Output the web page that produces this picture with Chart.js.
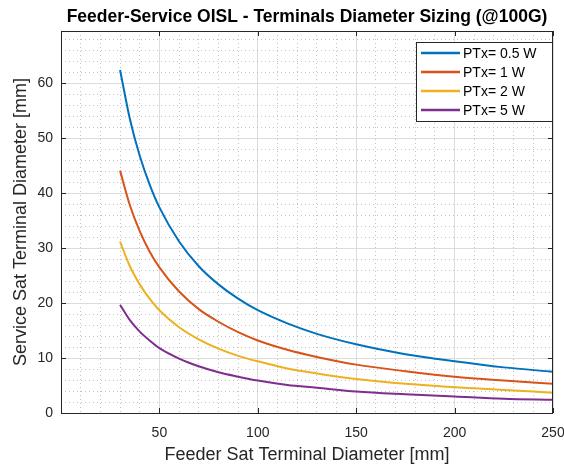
<!DOCTYPE html>
<html>
<head>
<meta charset="utf-8">
<title>Feeder-Service OISL</title>
<script src="https://cdn.jsdelivr.net/npm/chart.js@4.4.1/dist/chart.umd.min.js"></script>
<style>
  html, body { margin: 0; padding: 0; background: #fff; }
  #wrap { width: 564px; height: 466px; position: relative; }
</style>
</head>
<body>
<div id="wrap"><canvas id="sizing"></canvas></div>
<script>
// feeder terminal diameter [mm]
const feederDiam = [30, 35, 40, 45, 50, 60, 70, 80, 90, 100, 115, 130, 150, 175, 200, 225, 250];

// service terminal diameter [mm] per transmit power
const svc05W = [62.4, 53.5, 46.8, 41.6, 37.4, 31.2, 26.7, 23.4, 20.8, 18.7, 16.3, 14.4, 12.5, 10.7, 9.4, 8.3, 7.5];
const svc1W  = [44.1, 37.8, 33.1, 29.4, 26.5, 22.1, 18.9, 16.6, 14.7, 13.2, 11.5, 10.2, 8.8, 7.6, 6.6, 5.9, 5.3];
const svc2W  = [31.2, 26.7, 23.4, 20.8, 18.7, 15.6, 13.4, 11.7, 10.4, 9.4, 8.1, 7.2, 6.2, 5.3, 4.7, 4.2, 3.7];
const svc5W  = [19.7, 16.9, 14.8, 13.2, 11.8, 9.9, 8.5, 7.4, 6.6, 5.9, 5.1, 4.6, 3.9, 3.4, 3.0, 2.6, 2.4];

const seriesLabels = ["PTx= 0.5 W", "PTx= 1 W", "PTx= 2 W", "PTx= 5 W"];
const seriesColors = ["#0072BD", "#D95319", "#EDB120", "#7E2F8E"];

const xTickLabels = [50, 100, 150, 200, 250];
const yTickLabels = [0, 10, 20, 30, 40, 50, 60];

const chartTitle = "Feeder-Service OISL - Terminals Diameter Sizing (@100G)";

const FONT = "'Liberation Sans', Arial, Helvetica, sans-serif";
const TXT = "#262626";

function pts(ys) {
  return ys.map((y, i) => ({ x: feederDiam[i], y: y }));
}

const allSeries = [svc05W, svc1W, svc2W, svc5W];

// title over the axes, box around them, inward tick marks and the legend box
const axesDecor = {
  id: "axesDecor",
  afterDraw(chart) {
    const { ctx, chartArea: a, scales } = chart;
    ctx.save();

    ctx.fillStyle = "#000";
    ctx.font = "bold 17.5px " + FONT;
    ctx.textAlign = "center";
    ctx.textBaseline = "alphabetic";
    ctx.fillText(chartTitle, (a.left + a.right) / 2, 22);
    ctx.textAlign = "left";

    ctx.strokeStyle = "#262626";
    ctx.lineWidth = 1;
    ctx.strokeRect(a.left + 0.5, a.top + 0.5, a.right - a.left - 1, a.bottom - a.top);

    ctx.beginPath();
    xTickLabels.forEach(v => {
      const px = Math.round(scales.x.getPixelForValue(v)) + 0.5;
      ctx.moveTo(px, a.bottom); ctx.lineTo(px, a.bottom - 5);
      ctx.moveTo(px, a.top); ctx.lineTo(px, a.top + 5);
    });
    yTickLabels.forEach(v => {
      const py = Math.round(scales.y.getPixelForValue(v)) + 0.5;
      ctx.moveTo(a.left, py); ctx.lineTo(a.left + 5, py);
      ctx.moveTo(a.right, py); ctx.lineTo(a.right - 5, py);
    });
    ctx.stroke();

    // legend
    const bx = a.right - 137, by = a.top + 11, bw = 136, bh = 79;
    ctx.fillStyle = "#fff";
    ctx.fillRect(bx, by, bw, bh);
    ctx.strokeStyle = "#262626";
    ctx.strokeRect(bx + 0.5, by + 0.5, bw, bh);
    ctx.font = "14px " + FONT;
    ctx.textBaseline = "middle";
    chart.data.datasets.forEach((ds, i) => {
      const ry = by + 11 + i * 19;
      ctx.strokeStyle = ds.borderColor;
      ctx.lineWidth = 2.5;
      ctx.beginPath();
      ctx.moveTo(bx + 5, ry); ctx.lineTo(bx + 44, ry);
      ctx.stroke();
      ctx.fillStyle = "#000";
      ctx.fillText(ds.label, bx + 47, ry + 1);
    });
    ctx.restore();
  }
};

new Chart(document.getElementById("sizing"), {
  type: "line",
  data: {
    datasets: allSeries.map((ys, i) => ({
      label: seriesLabels[i],
      data: pts(ys),
      borderColor: seriesColors[i],
      backgroundColor: seriesColors[i],
      borderWidth: 2,
      pointRadius: 0,
      fill: false,
      cubicInterpolationMode: "monotone"
    }))
  },
  options: {
    responsive: true,
    maintainAspectRatio: false,
    animation: false,
    layout: { padding: { left: 0, right: 11, top: 31, bottom: 0 } },
    plugins: {
      legend: { display: false },
      tooltip: { enabled: false },
      title: { display: false }
    },
    scales: {
      x: {
        type: "linear",
        min: 0,
        max: 250,
        afterFit(s) { s.height = 53; s.paddingLeft = 0; s.paddingRight = 0; },
        ticks: {
          stepSize: 10,
          autoSkip: false,
          maxRotation: 0,
          padding: 12,
          color: TXT,
          font: { family: FONT, size: 14 },
          callback: v => (xTickLabels.includes(v) ? v : "")
        },
        grid: {
          drawTicks: false,
          color: c => (c.tick && xTickLabels.includes(c.tick.value) ? "#dcdcdc" : "#c4c4c4"),
          lineWidth: 1
        },
        border: {
          display: false,
          dash: c => (c.tick && c.tick.value % 50 === 0 ? [] : [1, 3])
        },
        title: {
          display: true,
          text: "Feeder Sat Terminal Diameter [mm]",
          color: TXT,
          font: { family: FONT, size: 18 },
          padding: { top: 0, bottom: 0 }
        }
      },
      y: {
        type: "linear",
        min: 0,
        max: 69.5,
        afterFit(s) { s.width = 61; },
        ticks: {
          stepSize: 2,
          autoSkip: false,
          includeBounds: false,
          padding: 8,
          color: TXT,
          font: { family: FONT, size: 14 },
          callback: v => (yTickLabels.includes(v) ? v : "")
        },
        grid: {
          drawTicks: false,
          color: c => (c.tick && yTickLabels.includes(c.tick.value) ? "#dcdcdc" : "#c4c4c4"),
          lineWidth: 1
        },
        border: {
          display: false,
          dash: c => (c.tick && c.tick.value % 10 === 0 ? [] : [1, 3])
        },
        title: {
          display: true,
          text: "Service Sat Terminal Diameter [mm]",
          color: TXT,
          font: { family: FONT, size: 18 },
          padding: { top: 10, bottom: 0 }
        }
      }
    }
  },
  plugins: [axesDecor]
});
</script>
</body>
</html>
